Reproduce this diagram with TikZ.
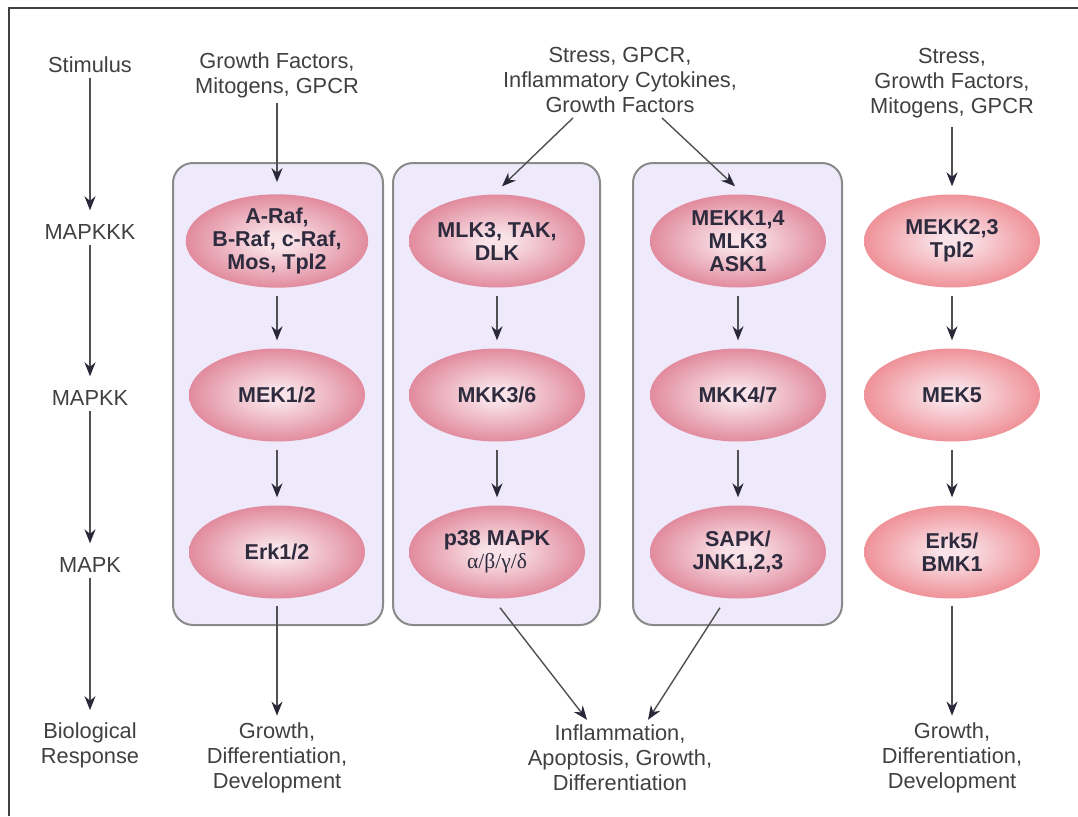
\documentclass[tikz,border=0pt]{standalone}
\usepackage{fontspec}
\setmainfont{Liberation Sans}
\newfontfamily\greekfont{Liberation Serif}
\usetikzlibrary{shapes.geometric,arrows.meta,calc}

\definecolor{inkgray}{HTML}{404040}
\definecolor{kinasetext}{HTML}{2D2B3D}
\definecolor{boxfill}{HTML}{EEEAFC}
\definecolor{boxedge}{HTML}{8A8A8A}
\definecolor{wire}{HTML}{505050}
\definecolor{tipc}{HTML}{2A2838}
\definecolor{kcore}{HTML}{F9E2E8}
\definecolor{kedge}{HTML}{D6627A}
\definecolor{kedgeout}{HTML}{EA6C72}

\pgfdeclareradialshading{kinaseglow}{\pgfpoint{0bp}{0bp}}{color(0bp)=(kcore); color(4bp)=(kcore); color(35bp)=(kedge); color(50bp)=(kedge)}
\pgfdeclareradialshading{kinaseglowout}{\pgfpoint{0bp}{0bp}}{color(0bp)=(kcore); color(4bp)=(kcore); color(35bp)=(kedgeout); color(50bp)=(kedgeout)}

\begin{document}
\begin{tikzpicture}[x=1pt, y=-1pt,
  kinase/.style={ellipse, minimum width=176pt, minimum height=93pt, inner sep=0pt,
    shading=kinaseglow, text=kinasetext, align=center,
    font=\bfseries\fontsize{21.5}{23}\selectfont},
  freekinase/.style={kinase, shading=kinaseglowout},
  cascade/.style={draw=boxedge, line width=2pt, fill=boxfill, rounded corners=20pt},
  lbl/.style={text=inkgray, align=center, inner sep=5pt,
    font=\fontsize{21.8}{25}\selectfont},
  sig/.style={draw=wire, line width=1.4pt, -{Stealth[length=14pt,width=11pt,color=tipc]}},
  frameline/.style={draw=inkgray, line width=1.5pt}]
  \useasboundingbox (0,0) rectangle (1078,816);
  \draw[frameline] (9,816) -- (9,8) -- (1078,8);

  % cascade boxes
  \node[cascade, minimum width=210pt, minimum height=462pt] (erkbox) at (278,394) {};
  \node[cascade, minimum width=207pt, minimum height=462pt] (p38box) at (496.5,394) {};
  \node[cascade, minimum width=209pt, minimum height=462pt] (jnkbox) at (737.5,394) {};

  % tier labels
  \node[lbl] (stim) at (90,65) {Stimulus};
  \node[lbl] (tier3) at (90,232) {MAPKKK};
  \node[lbl] (tier2) at (90,398) {MAPKK};
  \node[lbl] (tier1) at (90,565) {MAPK};
  \node[lbl] (resp) at (90,745) {Biological\\Response};

  % stimuli
  \node[lbl] (erkin) at (277,75) {Growth Factors,\\Mitogens, GPCR};
  \node[lbl] (stressin) at (620,80) {Stress, GPCR,\\Inflammatory Cytokines,\\Growth Factors};
  \node[lbl] (bmkin) at (952,83) {Stress,\\Growth Factors,\\Mitogens, GPCR};

  % kinases
  \node[kinase] (raf) at (277,241) {A-Raf,\\B-Raf, c-Raf,\\Mos, Tpl2};
  \node[kinase] (mek) at (277,395) {MEK1/2};
  \node[kinase] (erk) at (277,552) {Erk1/2};
  \node[kinase] (mlk) at (497,241) {MLK3, TAK,\\DLK};
  \node[kinase] (mkk36) at (497,395) {MKK3/6};
  \node[kinase] (p38) at (497,552) {p38 MAPK\\{\greekfont\mdseries α/β/γ/δ}};
  \node[kinase] (mekk) at (738,241) {MEKK1,4\\MLK3\\ASK1};
  \node[kinase] (mkk47) at (738,395) {MKK4/7};
  \node[kinase] (jnk) at (738,552) {SAPK/\\JNK1,2,3};
  \node[freekinase] (mekk23) at (952,241) {MEKK2,3\\Tpl2};
  \node[freekinase] (mek5) at (952,395) {MEK5};
  \node[freekinase] (erk5) at (952,552) {Erk5/\\BMK1};

  % responses
  \node[lbl] (erkout) at (277,758) {Growth,\\Differentiation,\\Development};
  \node[lbl] (stressout) at (620,758) {Inflammation,\\Apoptosis, Growth,\\Differentiation};
  \node[lbl] (bmkout) at (952,758) {Growth,\\Differentiation,\\Development};

  % tier arrows
  \draw[sig, shorten >=9pt] (stim) -- (tier3);
  \draw[sig, shorten >=9pt] (tier3) -- (tier2);
  \draw[sig, shorten >=9pt] (tier2) -- (tier1);
  \draw[sig, shorten >=7pt] (tier1) -- (resp);

  % cascade arrows
  \draw[sig, shorten >=12pt] (erkin) -- (raf);
  \draw[sig, shorten <=8pt, shorten >=8pt] (raf) -- (mek);
  \draw[sig, shorten <=8pt, shorten >=8pt] (mek) -- (erk);
  \draw[sig, shorten <=7pt, shorten >=2pt] (erk) -- (erkout);

  \draw[sig] ($(stressin.south)+(-47,0)$) -- ($(mlk.north)+(5,-8)$);
  \draw[sig] ($(stressin.south)+(42,0)$) -- ($(mekk.north)+(-3,-8)$);
  \draw[sig, shorten <=8pt, shorten >=8pt] (mlk) -- (mkk36);
  \draw[sig, shorten <=8pt, shorten >=8pt] (mkk36) -- (p38);
  \draw[sig, shorten <=8pt, shorten >=8pt] (mekk) -- (mkk47);
  \draw[sig, shorten <=8pt, shorten >=8pt] (mkk47) -- (jnk);
  \draw[sig] ($(p38.south)+(3,9)$) -- ($(stressout.north)+(-33,0)$);
  \draw[sig] ($(jnk.south)+(-18,9)$) -- ($(stressout.north)+(28,0)$);

  \draw[sig, shorten <=4pt, shorten >=8pt] (bmkin) -- (mekk23);
  \draw[sig, shorten <=8pt, shorten >=8pt] (mekk23) -- (mek5);
  \draw[sig, shorten <=8pt, shorten >=8pt] (mek5) -- (erk5);
  \draw[sig, shorten <=7pt, shorten >=2pt] (erk5) -- (bmkout);
\end{tikzpicture}
\end{document}
